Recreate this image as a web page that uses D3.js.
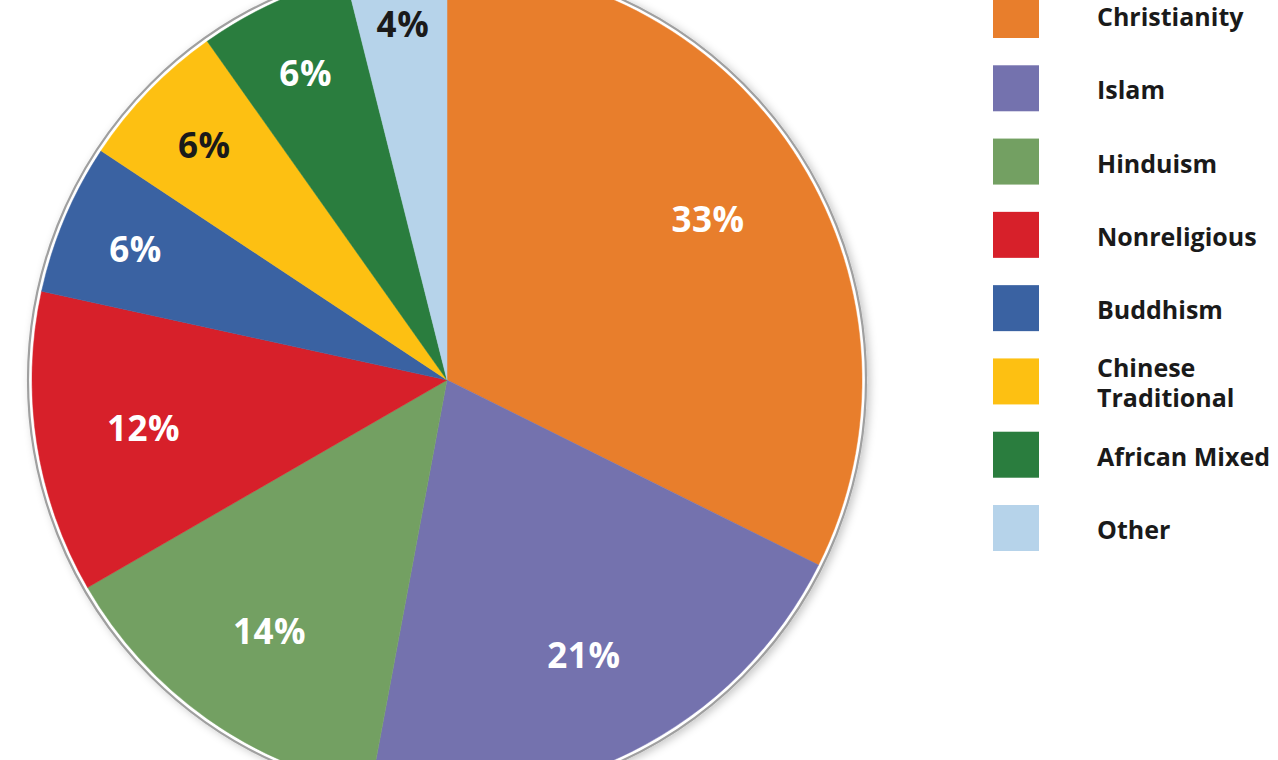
<!DOCTYPE html>
<html><head><meta charset="utf-8">
<script src="https://cdn.jsdelivr.net/npm/d3@7"></script>
<style>html,body{margin:0;padding:0;background:#fff;overflow:hidden}</style>
</head><body>
<svg id="chart" width="1278" height="760"></svg>
<script>
const categories = ["Christianity","Islam","Hinduism","Nonreligious","Buddhism","Chinese Traditional","African Mixed","Other"];
const values = [33, 21, 14, 12, 6, 6, 6, 4];
const colors = ["#E87E2C","#7472AE","#73A062","#D7202A","#3A62A2","#FDC012","#2A7D3E","#B6D3EA"];
const labelColors = ["#fff","#fff","#fff","#fff","#fff","#1a1a1a","#fff","#1a1a1a"];
const legendLines = [["Christianity"],["Islam"],["Hinduism"],["Nonreligious"],["Buddhism"],["Chinese","Traditional"],["African Mixed"],["Other"]];

const svg = d3.select("#chart");
const cx = 447, cy = 380, R = 415;

const defs = svg.append("defs");
const f = defs.append("filter").attr("id","sh").attr("x","-10%").attr("y","-10%").attr("width","120%").attr("height","120%");
f.append("feGaussianBlur").attr("in","SourceAlpha").attr("stdDeviation",4);
f.append("feOffset").attr("dx",3).attr("dy",2).attr("result","b");
f.append("feFlood").attr("flood-color","#000").attr("flood-opacity",0.22);
f.append("feComposite").attr("in2","b").attr("operator","in");
const m = f.append("feMerge"); m.append("feMergeNode"); m.append("feMergeNode").attr("in","SourceGraphic");

const g = svg.append("g").attr("transform",`translate(${cx},${cy})`);

// outline ring
g.append("circle").attr("r", R + 4).attr("fill","#fff").attr("stroke","#a0a0a0").attr("stroke-width",2.2).attr("filter","url(#sh)");

const data = categories.map((c,i)=>({cat:c, value:values[i], i}));
const pie = d3.pie().sort(null).value(d=>d.value);
const arcs = pie(data);
const arc = d3.arc().innerRadius(0).outerRadius(R);

g.selectAll("path.slice").data(arcs).join("path")
  .attr("class","slice")
  .attr("d",arc)
  .attr("fill",d=>colors[d.data.i])
  .attr("stroke",d=>colors[d.data.i]).attr("stroke-width",0.5);

const labelR = v => R * (v >= 12 ? 0.74 : (v >= 6 ? 0.815 : 0.865));
g.selectAll("text.lbl").data(arcs).join("text")
  .attr("class","lbl")
  .attr("transform",d=>{
    const r = labelR(d.data.value);
    const a = d3.arc().innerRadius(r).outerRadius(r);
    const [x,y] = a.centroid(d);
    return `translate(${x},${y})`;
  })
  .attr("text-anchor","middle")
  .attr("dominant-baseline","central")
  .attr("font-family","'Open Sans', sans-serif")
  .attr("font-weight",700)
  .attr("font-size",35)
  .attr("letter-spacing",0.5)
  .attr("fill",d=>labelColors[d.data.i])
  .text(d=>d.data.value + "%");

// legend
const legY = d3.scaleLinear().domain([0,7]).range([15, 528]);
const leg = svg.append("g");
categories.forEach((c,i)=>{
  const y = legY(i);
  leg.append("rect").attr("x",993).attr("y",y-23).attr("width",46).attr("height",46).attr("fill",colors[i]);
  const lines = legendLines[i];
  const t = leg.append("text").attr("x",1097)
    .attr("font-family","'Open Sans', sans-serif").attr("font-weight",700)
    .attr("font-size",25).attr("fill","#1a1a1a");
  lines.forEach((ln,j)=>{
    t.append("tspan").attr("x",1097)
      .attr("y", y + 1 + (j - (lines.length-1)/2) * 30)
      .attr("dominant-baseline","central")
      .text(ln);
  });
});
</script>
</body></html>
